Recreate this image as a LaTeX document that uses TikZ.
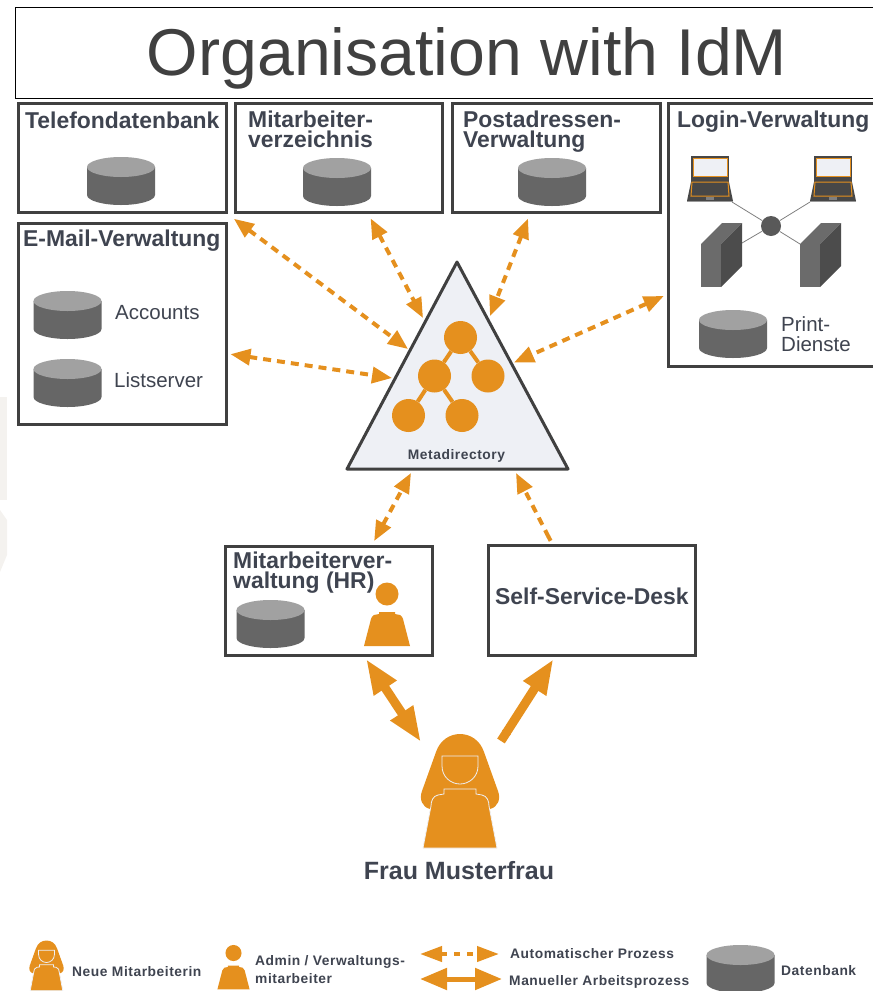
\documentclass[tikz,border=0pt]{standalone}
\usepackage{fontspec}
\setmainfont{Liberation Sans}
\usepackage{xcolor}
\usetikzlibrary{arrows.meta}
\definecolor{idmorange}{HTML}{E5901E}
\definecolor{idmdunkel}{HTML}{404040}
\definecolor{idmtext}{HTML}{3F4450}
\definecolor{idmhell}{HTML}{EEF0F5}
\definecolor{idmgrund}{HTML}{F4F2EF}
\tikzset{
    kasten/.style={draw=idmdunkel, line width=3pt, fill=white, inner sep=0pt},
    titeltext/.style={text=idmtext, inner sep=0pt, align=left, font=\bfseries\fontsize{22.9}{20}\selectfont},
    normaltext/.style={text=idmtext, inner sep=0pt, align=left, font=\fontsize{20.5}{20}\selectfont},
    legendetext/.style={text=idmtext, inner sep=0pt, align=left, font=\bfseries\fontsize{13.8}{18}\selectfont\addfontfeatures{LetterSpace=4}},
    autopfeil/.style={draw=idmorange, line width=4pt, dash pattern=on 8pt off 6pt,
        {Triangle[length=20pt,width=16pt,fill=idmorange]}-{Triangle[length=20pt,width=16pt,fill=idmorange]}},
    handpfeil/.style={draw=idmorange, line width=9pt,
        {Triangle[length=35pt,width=25pt,fill=idmorange]}-{Triangle[length=35pt,width=25pt,fill=idmorange]}},
    knoten/.style={circle, fill=idmorange, minimum size=33pt, inner sep=0pt},
    pics/datenbank/.style={code={
        \fill[black!60] (-34,0) -- (-34,28) arc[start angle=180,end angle=0,x radius=34,y radius=10] -- (34,0) -- cycle;
        \fill[black!37] (0,0) ellipse[x radius=34,y radius=10];
    }},
    pics/frau/.style={code={
        \fill[idmorange] (-30,75) .. controls (-38,73) and (-41,65) .. (-38,57) -- (-24,18) .. controls (-20,6) and (-10,0) .. (0,0) .. controls (10,0) and (20,6) .. (24,18) -- (38,57) .. controls (41,65) and (38,73) .. (30,75) -- cycle;
        \draw[draw=idmhell, fill=idmorange, line width=.8pt] (-18,22) -- (18,22) -- (18,32) .. controls (18,43) and (9,50) .. (0,50) .. controls (-9,50) and (-18,43) .. (-18,32) -- cycle;
        \draw[draw=idmhell, fill=idmorange, line width=.8pt] (-16,55) -- (16,55) -- (16,60) -- (22,61) .. controls (27,62) and (29,67) .. (29,72) -- (37,114) -- (-37,114) -- (-29,72) .. controls (-29,67) and (-27,62) .. (-22,61) -- (-16,60) -- cycle;
    }},
    pics/admin/.style={code={
        \fill[idmorange] (0,0) circle[radius=11.5];
        \fill[idmorange] (-8,18) -- (8,18) -- (8,20) -- (13,21) .. controls (15,22) and (15,23) .. (16,25) -- (23,52) -- (-23,52) -- (-16,25) .. controls (-15,23) and (-15,22) .. (-13,21) -- (-8,20) -- cycle;
    }},
    pics/laptop/.style={code={
        \fill[black!72] (-19,0) rectangle (19,26);
        \fill[black!72] (-19,26) -- (19,26) -- (23,45) -- (-23,45) -- cycle;
        \fill[black!40] (-23,45) rectangle (23,46);
        \draw[draw=idmorange, fill=idmhell, line width=1pt] (-17,2) rectangle (17,20);
        \draw[draw=idmorange, line width=1pt] (-18,26) -- (18,26) -- (19,40) -- (-19,40) -- cycle;
        \fill[black!50] (-4,41) rectangle (4,44);
    }},
    pics/server/.style={code={
        \fill[black!58] (0,0) -- (21,-21) -- (41,-21) -- (20,0) -- cycle;
        \fill[black!70] (20,0) -- (41,-21) -- (41,22) -- (20,43) -- cycle;
        \fill[black!58] (0,0) rectangle (20,43);
    }},
}
\begin{document}
\begin{tikzpicture}[x=1pt,y=-1pt]
    \useasboundingbox (0,0) rectangle (873,991);
    \fill[idmgrund] (0,397) rectangle (7,500);
    \fill[idmgrund] (0,510) -- (7,520) -- (7,555) -- (0,572) -- cycle;

    % Titel
    \node[draw=black, line width=.7pt, minimum width=858pt, minimum height=91pt, inner sep=0pt] (titel) at (444,52.5) {};
    \node[anchor=base, inner sep=0pt, text=idmdunkel, font=\fontsize{66.2}{66}\selectfont] (titeltext) at (467,75) {Organisation with IdM};

    % Kaesten
    \node[kasten, minimum width=208pt, minimum height=109pt] (tele) at (122,158) {};
    \node[kasten, minimum width=207pt, minimum height=109pt] (verz) at (338.5,158) {};
    \node[kasten, minimum width=208pt, minimum height=109pt] (post) at (556,158) {};
    \node[kasten, minimum width=206pt, minimum height=263pt] (login) at (771,234.5) {};
    \node[kasten, minimum width=208pt, minimum height=201pt] (mail) at (122,323.5) {};
    \node[kasten, minimum width=207pt, minimum height=109pt] (hr) at (328.5,600.5) {};
    \node[kasten, minimum width=207pt, minimum height=110pt] (self) at (591.5,600) {};

    \node[titeltext, anchor=base west] (teletext) at (25,128) {Telefondatenbank};
    \node[titeltext, anchor=north west] (verztext) at (248,111) {Mitarbeiter-\\verzeichnis};
    \node[titeltext, anchor=north west] (posttext) at (463,111) {Postadressen-\\Verwaltung};
    \node[titeltext, anchor=base west] (logintext) at (677,127) {Login-Verwaltung};
    \node[titeltext, anchor=base west] (mailtext) at (23,246) {E-Mail-Verwaltung};
    \node[titeltext, anchor=north west] (hrtext) at (233,552) {Mitarbeiterver-\\waltung (HR)};
    \node[titeltext, anchor=base west] (selftext) at (495,604) {Self-Service-Desk};

    \pic at (121,167) {datenbank};
    \pic at (337,168) {datenbank};
    \pic at (552,168) {datenbank};
    \pic at (67.5,301) {datenbank};
    \pic at (67.5,369) {datenbank};
    \pic at (733,320) {datenbank};
    \pic at (270.5,610) {datenbank};
    \pic at (387,594) {admin};

    \node[normaltext, anchor=base west] (accounts) at (115,319) {Accounts};
    \node[normaltext, anchor=base west] (listserver) at (114,387) {Listserver};
    \node[normaltext, anchor=north west] (print) at (781,316) {Print-\\Dienste};

    % Login-Netz
    \node[circle, fill=black!65, minimum size=20pt, inner sep=0pt] (hub) at (771,226) {};
    \coordinate (lapl) at (732,202);
    \coordinate (lapr) at (810,202);
    \coordinate (serl) at (742,243);
    \coordinate (serr) at (800,244);
    \draw[black!50, line width=.8pt] (hub) -- (lapl);
    \draw[black!50, line width=.8pt] (hub) -- (lapr);
    \draw[black!50, line width=.8pt] (hub) -- (serl);
    \draw[black!50, line width=.8pt] (hub) -- (serr);
    \pic at (710,156) {laptop};
    \pic at (833,156) {laptop};
    \pic at (701,244) {server};
    \pic at (800,244) {server};

    % Metadirectory
    \coordinate (spitze) at (457,262);
    \coordinate (links) at (347,469);
    \coordinate (rechts) at (568,469);
    \draw[draw=idmdunkel, fill=idmhell, line width=3pt, line join=round] (spitze) -- (rechts) -- (links) -- cycle;
    \node[knoten] (oben) at (460.5,337.5) {};
    \node[knoten] (mitte) at (434.5,376) {};
    \node[knoten] (rand) at (488,376) {};
    \node[knoten] (unten1) at (408.5,415.5) {};
    \node[knoten] (unten2) at (462,415.5) {};
    \draw[idmorange, line width=4pt] (oben) -- (mitte);
    \draw[idmorange, line width=4pt] (oben) -- (rand);
    \draw[idmorange, line width=4pt] (mitte) -- (unten1);
    \draw[idmorange, line width=4pt] (mitte) -- (unten2);
    \node[legendetext, anchor=base] (metatext) at (456.5,459) {Metadirectory};

    % Pfeile
    \coordinate (m1) at (408,349);
    \coordinate (m2) at (423,318);
    \coordinate (m3) at (490,316);
    \coordinate (m4) at (514,362.5);
    \coordinate (m5) at (392,378);
    \coordinate (m6) at (411,473);
    \coordinate (m7) at (516,473);
    \draw[autopfeil, shorten <=8pt] (tele.south east) -- (m1);
    \draw[autopfeil, shorten <=5pt] (verz.-62) -- (m2);
    \draw[autopfeil, shorten <=5pt] (post.-115) -- (m3);
    \draw[autopfeil, shorten <=3pt] (login.210) -- (m4);
    \draw[autopfeil, shorten <=3pt] (mail.-16) -- (m5);
    \draw[autopfeil, shorten <=4pt] (hr.52) -- (m6);
    \draw[autopfeil, {Butt Cap}-{Triangle[length=20pt,width=16pt,fill=idmorange]}, shorten <=3pt] (self.125) -- (m7);

    % Frau
    \pic at (460,734) {frau};
    \node[titeltext, anchor=base, font=\bfseries\fontsize{25}{24}\selectfont] (frautext) at (459,879) {Frau Musterfrau};
    \coordinate (fraul) at (421,742);
    \coordinate (frauh) at (501,741);
    \coordinate (selfh) at (553.5,659);
    \coordinate (hrh) at (366,659);
    \draw[handpfeil] (hrh) -- (fraul);
    \draw[handpfeil, {Butt Cap}-{Triangle[length=35pt,width=25pt,fill=idmorange]}] (frauh) -- (selfh);

    % Legende
    \pic[scale=.44] at (46.5,940.5) {frau};
    \node[legendetext, anchor=base west] (leg1) at (72,976) {Neue Mitarbeiterin};
    \pic[scale=.7] at (233.5,953) {admin};
    \node[legendetext, anchor=north west] (leg2) at (255,955) {Admin / Verwaltungs-\\mitarbeiter};
    \coordinate (auto1) at (420,954);
    \coordinate (auto2) at (499,954);
    \coordinate (hand1) at (420,979);
    \coordinate (hand2) at (502,979);
    \draw[autopfeil, dash pattern=on 6pt off 7pt, {Triangle[length=22pt,width=15pt,fill=idmorange]}-{Triangle[length=22pt,width=15pt,fill=idmorange]}] (auto1) -- (auto2);
    \draw[handpfeil, line width=5pt, {Triangle[length=27pt,width=21pt,fill=idmorange]}-{Triangle[length=27pt,width=21pt,fill=idmorange]}] (hand1) -- (hand2);
    \node[legendetext, anchor=base west] (leg3) at (510,958) {Automatischer Prozess};
    \node[legendetext, anchor=base west] (leg4) at (509,985) {Manueller Arbeitsprozess};
    \pic at (740.5,955) {datenbank};
    \node[legendetext, anchor=base west] (leg5) at (781,975) {Datenbank};
\end{tikzpicture}
\end{document}
